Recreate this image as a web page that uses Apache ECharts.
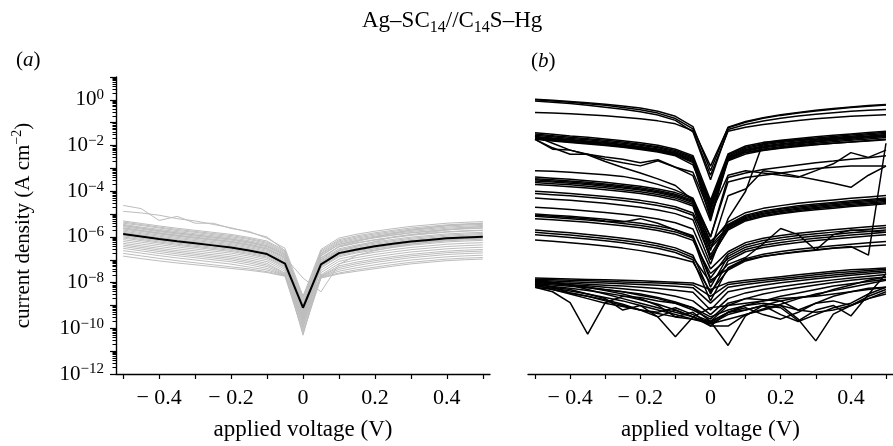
<!DOCTYPE html>
<html>
<head>
<meta charset="utf-8">
<script src="https://cdn.jsdelivr.net/npm/echarts@6/dist/echarts.min.js"></script>
<style>
  html, body { margin: 0; padding: 0; background: #fff; }
  #main { width: 893px; height: 446px; }
</style>
</head>
<body>
<div id="main"></div>
<script>
// applied voltage (V)
const voltage = [-0.5, -0.45, -0.4, -0.35, -0.3, -0.25, -0.2, -0.15, -0.1, -0.05, 0,
  0.05, 0.1, 0.15, 0.2, 0.25, 0.3, 0.35, 0.4, 0.45, 0.5];
const xTicks = [-0.5, -0.4, -0.3, -0.2, -0.1, 0, 0.1, 0.2, 0.3, 0.4, 0.5];
const xLabels = [-0.4, -0.2, 0, 0.2, 0.4];
const yDecades = [-12, -11, -10, -9, -8, -7, -6, -5, -4, -3, -2, -1, 0, 1];
const yLabels = [-12, -10, -8, -6, -4, -2, 0];

// panel (a): log10 of current density, mean trace
const meanA = [-5.87, -5.98, -6.09, -6.19, -6.28, -6.37, -6.46, -6.59, -6.75, -7.17, -9.1,
  -7.2, -6.71, -6.55, -6.41, -6.3, -6.2, -6.13, -6.06, -6.02, -5.99];

// panel (a): individual traces (grey)
const greyA = [
  [-5.30, -5.41, -5.52, -5.62, -5.71, -5.80, -5.89, -6.02, -6.18, -6.60, -8.7, -6.61, -6.12, -5.95, -5.82, -5.71, -5.61, -5.54, -5.47, -5.43, -5.40],
  [-5.35, -5.46, -5.57, -5.67, -5.76, -5.85, -5.94, -6.07, -6.23, -6.65, -9.0, -6.66, -6.17, -6.00, -5.87, -5.76, -5.66, -5.59, -5.52, -5.48, -5.45],
  [-5.40, -5.50, -5.61, -5.72, -5.80, -5.90, -5.99, -6.11, -6.28, -6.70, -8.8, -6.72, -6.22, -6.05, -5.92, -5.81, -5.71, -5.64, -5.57, -5.53, -5.50],
  [-5.45, -5.57, -5.67, -5.77, -5.86, -5.95, -6.04, -6.17, -6.33, -6.75, -9.2, -6.76, -6.27, -6.10, -5.97, -5.86, -5.76, -5.69, -5.62, -5.58, -5.55],
  [-5.50, -5.61, -5.72, -5.82, -5.91, -6.00, -6.09, -6.22, -6.38, -6.80, -8.9, -6.81, -6.32, -6.15, -6.02, -5.91, -5.81, -5.74, -5.67, -5.63, -5.60],
  [-5.55, -5.66, -5.77, -5.87, -5.96, -6.05, -6.14, -6.27, -6.43, -6.85, -9.4, -6.83, -6.34, -6.17, -6.04, -5.93, -5.83, -5.76, -5.69, -5.65, -5.62],
  [-5.60, -5.71, -5.82, -5.92, -6.01, -6.10, -6.19, -6.32, -6.48, -6.90, -9.0, -6.91, -6.42, -6.25, -6.12, -6.01, -5.91, -5.84, -5.77, -5.73, -5.70],
  [-5.65, -5.76, -5.87, -5.97, -6.06, -6.15, -6.24, -6.37, -6.53, -6.95, -9.5, -6.93, -6.44, -6.27, -6.14, -6.03, -5.93, -5.86, -5.79, -5.75, -5.72],
  [-5.70, -5.81, -5.92, -6.02, -6.11, -6.20, -6.29, -6.42, -6.58, -7.00, -9.1, -7.01, -6.52, -6.35, -6.22, -6.11, -6.01, -5.94, -5.87, -5.83, -5.80],
  [-5.75, -5.86, -5.97, -6.07, -6.16, -6.25, -6.34, -6.47, -6.63, -7.05, -9.6, -7.06, -6.57, -6.40, -6.27, -6.16, -6.06, -5.99, -5.92, -5.88, -5.85],
  [-5.80, -5.91, -6.02, -6.12, -6.21, -6.30, -6.39, -6.52, -6.68, -7.10, -9.3, -7.11, -6.62, -6.45, -6.32, -6.21, -6.11, -6.04, -5.97, -5.93, -5.90],
  [-5.85, -5.96, -6.07, -6.17, -6.26, -6.35, -6.44, -6.57, -6.73, -7.15, -9.8, -7.16, -6.67, -6.50, -6.37, -6.26, -6.16, -6.09, -6.02, -5.98, -5.95],
  [-5.90, -6.01, -6.12, -6.22, -6.31, -6.40, -6.49, -6.62, -6.78, -7.20, -9.2, -7.21, -6.72, -6.55, -6.42, -6.31, -6.21, -6.14, -6.07, -6.03, -6.00],
  [-5.95, -6.06, -6.17, -6.27, -6.36, -6.45, -6.54, -6.67, -6.83, -7.25, -10.0, -7.26, -6.77, -6.60, -6.47, -6.36, -6.26, -6.19, -6.12, -6.08, -6.05],
  [-6.00, -6.11, -6.22, -6.32, -6.41, -6.50, -6.59, -6.72, -6.88, -7.30, -9.4, -7.31, -6.82, -6.65, -6.52, -6.41, -6.31, -6.24, -6.17, -6.13, -6.10],
  [-6.05, -6.16, -6.27, -6.37, -6.46, -6.55, -6.64, -6.77, -6.93, -7.35, -9.7, -7.36, -6.87, -6.70, -6.57, -6.46, -6.36, -6.29, -6.22, -6.18, -6.15],
  [-6.12, -6.23, -6.34, -6.44, -6.53, -6.62, -6.71, -6.84, -7.00, -7.42, -9.5, -7.46, -6.97, -6.80, -6.67, -6.56, -6.46, -6.39, -6.32, -6.28, -6.25],
  [-6.20, -6.31, -6.42, -6.52, -6.61, -6.70, -6.79, -6.92, -7.08, -7.50, -10.3, -7.56, -7.07, -6.90, -6.77, -6.66, -6.56, -6.49, -6.42, -6.38, -6.35],
  [-6.28, -6.39, -6.50, -6.60, -6.69, -6.78, -6.87, -7.00, -7.16, -7.58, -9.6, -7.66, -7.17, -7.00, -6.87, -6.76, -6.66, -6.59, -6.52, -6.48, -6.45],
  [-6.35, -6.46, -6.57, -6.67, -6.76, -6.85, -6.94, -7.07, -7.23, -7.60, -9.9, -7.70, -7.27, -7.10, -6.97, -6.86, -6.76, -6.69, -6.62, -6.58, -6.55],
  [-6.42, -6.53, -6.64, -6.74, -6.83, -6.92, -7.01, -7.14, -7.30, -7.64, -9.3, -7.72, -7.34, -7.17, -7.04, -6.93, -6.83, -6.76, -6.69, -6.65, -6.62],
  [-6.50, -6.61, -6.72, -6.82, -6.91, -7.00, -7.09, -7.22, -7.38, -7.66, -10.1, -7.74, -7.42, -7.25, -7.12, -7.01, -6.91, -6.84, -6.77, -6.73, -6.70],
  [-6.60, -6.71, -6.82, -6.92, -7.01, -7.10, -7.19, -7.32, -7.45, -7.68, -9.7, -7.76, -7.50, -7.35, -7.22, -7.11, -7.01, -6.94, -6.87, -6.83, -6.80],
  [-6.72, -6.83, -6.94, -7.04, -7.13, -7.22, -7.31, -7.40, -7.52, -7.70, -9.9, -7.78, -7.58, -7.44, -7.32, -7.21, -7.11, -7.04, -6.97, -6.93, -6.90],
  [-6.84, -6.95, -7.05, -7.14, -7.22, -7.30, -7.38, -7.46, -7.56, -7.72, -10.2, -7.80, -7.62, -7.50, -7.39, -7.28, -7.18, -7.11, -7.04, -7.00, -6.97],
  [-5.50, -5.62, -5.73, -5.83, -5.92, -6.01, -6.10, -6.23, -6.40, -6.78, -8.6, -6.55, -6.05, -5.88, -5.75, -5.64, -5.54, -5.47, -5.40, -5.36, -5.33],
  [-4.62, -4.76, -5.28, -5.10, -5.40, -5.40, -5.63, -5.76, -6.06, -6.50, -8.6, -7.00, -6.40, -6.20, -6.00, -5.85, -5.70, -5.60, -5.50, -5.45, -5.40],
  [-4.88, -4.95, -5.05, -5.20, -5.30, -5.45, -5.60, -5.80, -6.00, -6.60, -9.0, -7.10, -6.60, -6.40, -6.20, -6.00, -5.90, -5.80, -5.70, -5.60, -5.55],
  [-5.62, -5.73, -5.84, -5.94, -6.03, -6.12, -6.21, -6.35, -6.52, -6.90, -7.8, -8.40, -7.20, -6.80, -6.60, -6.45, -6.32, -6.22, -6.14, -6.08, -6.04]
];

// panel (b): individual traces (black)
const tracesB = [
  [0.03, -0.02, -0.07, -0.13, -0.19, -0.27, -0.36, -0.5, -0.72, -1.17, -3.1, -1.2, -0.95, -0.78, -0.65, -0.55, -0.46, -0.38, -0.31, -0.25, -0.2],
  [-0.55, -0.58, -0.61, -0.65, -0.7, -0.76, -0.83, -0.92, -1.05, -1.35, -3.3, -1.37, -1.2, -1.08, -0.99, -0.9, -0.83, -0.77, -0.72, -0.68, -0.65],
  [0.0, -0.05, -0.1, -0.17, -0.24, -0.33, -0.43, -0.58, -0.82, -1.27, -2.9, -1.22, -0.98, -0.81, -0.68, -0.58, -0.49, -0.41, -0.34, -0.28, -0.23],
  [-0.05, -0.1, -0.16, -0.24, -0.32, -0.41, -0.52, -0.66, -0.9, -1.4, -3.5, -1.3, -1.08, -0.93, -0.81, -0.71, -0.63, -0.56, -0.5, -0.46, -0.42],
  [-1.44, -1.51, -1.58, -1.64, -1.71, -1.79, -1.88, -1.99, -2.16, -2.44, -4.4, -2.37, -2.02, -1.87, -1.77, -1.69, -1.62, -1.55, -1.49, -1.43, -1.37],
  [-1.5, -1.57, -1.64, -1.7, -1.77, -1.85, -1.94, -2.05, -2.22, -2.5, -4.7, -2.42, -2.07, -1.92, -1.82, -1.74, -1.67, -1.6, -1.54, -1.48, -1.42],
  [-1.55, -1.62, -1.69, -1.75, -1.82, -1.9, -1.99, -2.1, -2.27, -2.55, -4.9, -2.47, -2.12, -1.97, -1.87, -1.79, -1.72, -1.65, -1.59, -1.53, -1.47],
  [-1.6, -1.67, -1.74, -1.8, -1.87, -1.95, -2.04, -2.15, -2.32, -2.6, -4.5, -2.52, -2.17, -2.02, -1.92, -1.84, -1.77, -1.7, -1.64, -1.58, -1.52],
  [-1.63, -1.7, -1.77, -1.83, -1.9, -1.98, -2.07, -2.18, -2.35, -2.65, -5.1, -2.56, -2.21, -2.06, -1.96, -1.88, -1.81, -1.74, -1.68, -1.62, -1.56],
  [-1.67, -1.74, -1.81, -1.87, -1.94, -2.02, -2.11, -2.22, -2.39, -2.7, -4.8, -2.6, -2.25, -2.1, -2.0, -1.92, -1.85, -1.78, -1.72, -1.66, -1.6],
  [-1.7, -1.77, -1.84, -1.9, -1.97, -2.05, -2.14, -2.25, -2.42, -2.75, -5.2, -2.65, -2.3, -2.15, -2.05, -1.97, -1.9, -1.83, -1.77, -1.71, -1.65],
  [-1.73, -1.8, -1.87, -1.93, -2.0, -2.08, -2.17, -2.28, -2.45, -2.85, -4.6, -2.67, -2.37, -2.22, -2.12, -2.04, -1.97, -1.9, -1.84, -1.78, -1.72],
  [-1.73, -2.1, -2.38, -2.38, -2.5, -2.6, -2.75, -2.62, -2.95, -3.17, -5.0, -3.3, -3.1, -3.2, -3.3, -3.39, -3.1, -2.8, -2.31, -2.52, -2.2],
  [-1.73, -2.16, -2.2, -2.38, -2.6, -2.75, -2.89, -2.67, -2.95, -3.32, -5.3, -2.5, -2.3, -2.2, -2.1, -2.0, -1.95, -1.9, -1.85, -1.8, -1.75],
  [-1.6, -1.9, -2.2, -2.4, -2.7, -2.96, -3.2, -3.46, -3.75, -4.4, -6.0, -3.6, -3.4, -3.3, -3.2, -3.1, -3.0, -2.95, -2.9, -2.9, -2.9],
  [-3.1, -3.13, -3.17, -3.22, -3.28, -3.35, -3.5, -3.7, -3.95, -4.3, -6.0, -3.4, -3.2, -3.05, -2.95, -2.85, -2.75, -2.68, -2.6, -2.53, -2.45],
  [-3.38, -3.43, -3.48, -3.54, -3.61, -3.69, -3.78, -3.9, -4.06, -4.33, -6.3, -5.34, -4.94, -4.75, -4.63, -4.53, -4.45, -4.38, -4.31, -4.25, -4.19],
  [-3.45, -3.5, -3.55, -3.61, -3.68, -3.76, -3.85, -3.97, -4.13, -4.4, -6.6, -4.2, -3.9, -3.1, -3.2, -3.35, -3.5, -3.65, -3.83, -3.3, -2.9],
  [-3.5, -3.55, -3.6, -3.66, -3.73, -3.81, -3.9, -4.02, -4.18, -4.45, -6.2, -5.45, -5.05, -4.86, -4.74, -4.64, -4.56, -4.49, -4.42, -4.36, -4.3],
  [-3.55, -3.6, -3.65, -3.71, -3.78, -3.86, -3.95, -4.07, -4.23, -4.5, -6.8, -5.5, -5.1, -4.91, -4.79, -4.69, -4.61, -4.54, -4.47, -4.41, -4.35],
  [-3.62, -3.67, -3.72, -3.78, -3.85, -3.93, -4.02, -4.14, -4.3, -4.57, -6.4, -5.55, -5.15, -4.96, -4.84, -4.74, -4.66, -4.59, -4.52, -4.46, -4.4],
  [-3.7, -3.75, -3.8, -3.86, -3.93, -4.01, -4.1, -4.22, -4.38, -4.65, -7.0, -5.6, -5.2, -5.01, -4.89, -4.79, -4.71, -4.64, -4.57, -4.51, -4.45],
  [-4.0, -4.05, -4.1, -4.16, -4.23, -4.31, -4.4, -4.52, -4.68, -4.95, -6.5, -5.65, -5.25, -5.06, -4.94, -4.84, -4.76, -4.69, -4.62, -4.56, -4.5],
  [-4.1, -4.15, -4.2, -4.26, -4.33, -4.41, -4.5, -4.62, -4.78, -5.05, -6.9, -5.7, -5.3, -5.11, -4.99, -4.89, -4.81, -4.74, -4.67, -4.61, -4.55],
  [-4.3, -4.35, -4.4, -4.46, -4.53, -4.61, -4.7, -4.82, -4.98, -5.25, -7.2, -5.2, -4.0, -1.87, -1.8, -1.75, -1.72, -1.68, -1.65, -1.6, -1.58],
  [-4.7, -4.75, -4.8, -4.86, -4.93, -5.01, -5.1, -5.22, -5.38, -5.65, -7.4, -6.65, -6.25, -6.06, -5.94, -5.84, -5.76, -5.69, -5.62, -5.56, -5.5],
  [-5.0, -5.05, -5.1, -5.16, -5.23, -5.31, -5.4, -5.52, -5.68, -5.95, -7.8, -6.75, -6.35, -6.16, -6.04, -5.94, -5.86, -5.79, -5.72, -5.66, -5.6],
  [-5.1, -5.15, -5.2, -5.26, -5.33, -5.41, -5.5, -5.62, -5.78, -6.05, -8.2, -6.85, -6.45, -6.26, -6.14, -6.04, -5.96, -5.89, -5.82, -5.76, -5.7],
  [-5.2, -5.25, -5.3, -5.36, -5.43, -5.51, -5.6, -5.72, -5.88, -6.15, -7.6, -6.95, -6.55, -6.36, -6.24, -6.14, -6.06, -5.99, -5.92, -5.86, -5.8],
  [-5.7, -5.76, -5.82, -5.89, -5.97, -6.06, -6.16, -6.3, -6.48, -6.8, -8.5, -7.05, -6.65, -6.46, -6.34, -6.24, -6.16, -6.09, -6.02, -5.96, -5.9],
  [-5.8, -5.86, -5.92, -5.99, -6.07, -6.16, -6.26, -6.4, -6.58, -6.9, -8.0, -7.2, -6.9, -6.3, -5.63, -5.9, -6.57, -5.9, -5.7, -5.75, -5.8],
  [-5.9, -5.96, -6.02, -6.09, -6.17, -6.26, -6.36, -6.5, -6.68, -7.0, -8.8, -7.35, -6.95, -6.76, -6.64, -6.54, -6.46, -6.39, -6.32, -6.26, -6.2],
  [-6.13, -6.19, -6.25, -6.32, -6.4, -6.49, -6.6, -6.74, -6.9, -7.1, -8.4, -7.45, -7.05, -6.86, -6.74, -6.64, -6.56, -6.49, -6.42, -6.8, -1.9],
  [-5.05, -5.1, -5.15, -5.2, -5.3, -5.35, -5.2, -5.4, -5.7, -6.0, -7.9, -7.4, -7.0, -6.85, -6.75, -6.66, -6.58, -6.5, -6.45, -6.4, -6.35],
  [-7.8, -7.82, -7.84, -7.86, -7.88, -7.9, -7.92, -7.95, -7.98, -8.02, -8.3, -8.0, -7.9, -7.82, -7.74, -7.66, -7.58, -7.5, -7.44, -7.4, -7.36],
  [-7.85, -7.87, -7.9, -7.92, -7.94, -7.97, -8.0, -8.02, -8.05, -8.1, -8.6, -8.08, -7.98, -7.9, -7.82, -7.74, -7.66, -7.58, -7.52, -7.47, -7.42],
  [-7.9, -7.93, -7.96, -7.99, -8.02, -8.05, -8.08, -8.12, -8.16, -8.22, -8.9, -8.2, -8.08, -7.98, -7.9, -7.82, -7.74, -7.67, -7.6, -7.54, -7.48],
  [-7.95, -7.99, -8.03, -8.07, -8.11, -8.15, -8.2, -8.26, -8.33, -8.42, -9.2, -8.4, -8.25, -8.12, -8.01, -7.92, -7.83, -7.75, -7.68, -7.61, -7.55],
  [-8.0, -8.04, -8.09, -8.14, -8.2, -8.27, -8.35, -8.45, -8.6, -8.8, -9.4, -8.7, -8.45, -8.3, -8.18, -8.07, -7.97, -7.88, -7.8, -7.72, -7.65],
  [-8.05, -8.1, -8.16, -8.23, -8.31, -8.4, -8.5, -8.65, -8.85, -9.1, -9.7, -9.0, -8.7, -8.5, -8.35, -8.22, -8.1, -8.0, -7.9, -7.82, -7.75],
  [-8.1, -8.17, -8.25, -8.34, -8.45, -8.58, -8.75, -8.95, -9.2, -9.5, -9.9, -9.3, -9.0, -8.8, -8.6, -8.45, -8.3, -8.15, -8.05, -7.95, -7.85],
  [-8.15, -8.25, -8.37, -8.5, -8.65, -8.8, -9.0, -9.2, -9.4, -9.6, -9.8, -9.6, -9.4, -9.15, -8.95, -8.7, -8.5, -8.35, -8.2, -8.05, -7.9],
  [-8.2, -8.3, -8.45, -8.6, -8.75, -8.95, -9.2, -9.3, -9.1, -9.4, -9.7, -9.3, -9.1, -9.4, -9.6, -9.3, -8.9, -8.6, -8.4, -8.25, -8.2],
  [-8.2, -8.4, -8.88, -10.25, -8.88, -8.6, -8.65, -8.8, -8.9, -9.2, -9.6, -8.9, -8.7, -8.75, -8.8, -9.2, -8.9, -8.8, -9.0, -8.7, -8.5],
  [-8.0, -8.2, -8.45, -8.6, -8.8, -9.0, -9.2, -9.5, -10.37, -9.5, -9.1, -9.0, -8.9, -8.8, -8.7, -8.65, -8.6, -8.5, -8.4, -8.3, -8.2],
  [-8.1, -8.3, -8.5, -8.7, -8.9, -9.05, -9.2, -9.35, -9.5, -9.6, -9.7, -10.75, -9.45, -9.0, -8.8, -8.65, -8.55, -8.3, -8.1, -7.9, -7.75],
  [-7.9, -8.0, -8.1, -8.2, -8.3, -8.4, -8.55, -8.7, -8.9, -9.1, -9.5, -9.2, -9.0, -8.9, -9.0, -9.6, -10.55, -9.38, -9.0, -8.6, -8.3],
  [-8.0, -8.05, -8.1, -8.3, -8.5, -8.7, -8.9, -9.1, -9.3, -9.5, -9.8, -9.4, -9.2, -9.0, -9.1, -9.67, -9.2, -9.0, -9.46, -8.52, -7.6],
  [-7.95, -8.0, -8.1, -8.2, -8.35, -8.5, -8.7, -9.0, -9.5, -9.3, -9.9, -9.9, -9.4, -9.2, -9.0, -9.2, -9.3, -9.2, -9.0, -8.7, -8.4],
  [-8.05, -8.2, -8.3, -8.5, -8.7, -9.2, -9.0, -9.5, -9.2, -9.5, -9.75, -9.3, -9.2, -9.0, -9.4, -9.7, -9.4, -9.1, -8.9, -8.5, -8.2]
];

const FONT = "'Liberation Serif', 'Times New Roman', serif";
const pairs = vals => voltage.map((v, i) => [v, vals[i]]);
const minus = v => (v < 0 ? '\u2212 ' + String(-v) : String(v));

// log-spaced minor ticks within each decade
const minorTicks = [];
for (let n = -12; n < 1; n++) {
  for (let k = 2; k <= 9; k++) minorTicks.push(n + Math.log10(k));
}

const chart = echarts.init(document.getElementById('main'));

const txt = (size, extra) => Object.assign({
  fontFamily: FONT, fontSize: size, fontWeight: 'normal', color: '#000'
}, extra || {});

const xAxisBase = gridIndex => ({
  gridIndex: gridIndex,
  type: 'value',
  min: -0.52,
  max: 0.52,
  name: 'applied voltage (V)',
  nameLocation: 'middle',
  nameGap: 44,
  nameTextStyle: txt(23),
  axisLine: { onZero: false, lineStyle: { color: '#000', width: 1.4 } },
  axisTick: { customValues: xTicks, length: 5, lineStyle: { color: '#000', width: 1.2 } },
  axisLabel: Object.assign(txt(22), {
    customValues: xLabels,
    margin: 13,
    formatter: v => minus(v)
  }),
  splitLine: { show: false }
});

const series = [];
greyA.forEach(vals => series.push({
  type: 'line', xAxisIndex: 0, yAxisIndex: 0, data: pairs(vals),
  showSymbol: false, silent: true,
  lineStyle: { color: '#bdbdbd', width: 1 }
}));
series.push({
  type: 'line', xAxisIndex: 0, yAxisIndex: 0, data: pairs(meanA),
  showSymbol: false, silent: true, z: 5,
  lineStyle: { color: '#000', width: 2 }
});
tracesB.forEach(vals => series.push({
  type: 'line', xAxisIndex: 1, yAxisIndex: 2, data: pairs(vals),
  showSymbol: false, silent: true,
  lineStyle: { color: '#000', width: 1.5 }
}));

chart.setOption({
  animation: false,
  backgroundColor: '#fff',
  title: [
    {
      text: '{n|Ag–SC}{s|14}{n|//C}{s|14}{n|S–Hg}',
      left: 357, top: 4,
      textStyle: {
        fontWeight: 'normal',
        rich: {
          n: txt(23, { lineHeight: 22, verticalAlign: 'top' }),
          s: txt(16, { lineHeight: 27, verticalAlign: 'bottom' })
        }
      }
    },
    {
      text: '{n|(}{i|a}{n|)}', left: 11, top: 45,
      textStyle: { fontWeight: 'normal', rich: {
        n: txt(21),
        i: txt(21, { fontStyle: 'italic' })
      } }
    },
    {
      text: '{n|(}{i|b}{n|)}', left: 526, top: 46,
      textStyle: { fontWeight: 'normal', rich: {
        n: txt(21),
        i: txt(21, { fontStyle: 'italic' })
      } }
    }
  ],
  grid: [
    { left: 116, top: 77, width: 374, height: 300 },
    { left: 528, top: 77, width: 374, height: 300 }
  ],
  xAxis: [xAxisBase(0), xAxisBase(1)],
  yAxis: [
    {
      gridIndex: 0,
      type: 'value',
      min: -12,
      max: 1,
      position: 'left',
      name: '{n|current density (A cm}{s|−2}{n|)}',
      nameLocation: 'middle',
      nameGap: 80,
      nameTextStyle: {
        rich: {
          n: txt(21, { lineHeight: 26 }),
          s: txt(14, { lineHeight: 14, verticalAlign: 'top' })
        }
      },
      axisLine: { show: true, onZero: false, lineStyle: { color: '#000', width: 1.4 } },
      axisTick: { customValues: yDecades, length: 6, lineStyle: { color: '#000', width: 1.2 } },
      axisLabel: {
        customValues: yLabels,
        margin: 12,
        formatter: v => '{b|10}{s|' + (v < 0 ? '−' + (-v) : v) + '}',
        rich: {
          b: txt(21, { lineHeight: 24 }),
          s: txt(15, { lineHeight: 14, verticalAlign: 'top' })
        }
      },
      splitLine: { show: false }
    },
    {
      gridIndex: 0,
      type: 'value',
      min: -12,
      max: 1,
      position: 'left',
      axisLine: { show: false, onZero: false },
      axisTick: { customValues: minorTicks, length: 3.5, lineStyle: { color: '#000', width: 1 } },
      axisLabel: { show: false },
      splitLine: { show: false }
    },
    {
      gridIndex: 1,
      type: 'value',
      min: -12,
      max: 1,
      show: false
    }
  ],
  series: series
});
</script>
</body>
</html>
